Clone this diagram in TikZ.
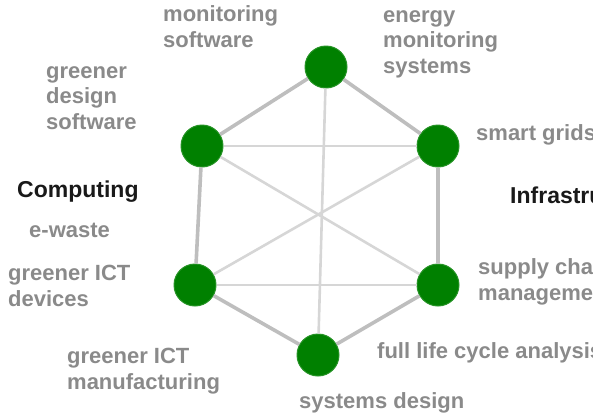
\documentclass[tikz,border=0pt]{standalone}
\usepackage{fontspec}
\setmainfont{Liberation Sans}
\usepackage{tikz}
\usetikzlibrary{positioning}
\definecolor{verdeNodo}{RGB}{0,128,0}
\definecolor{grisTexto}{RGB}{138,138,138}
\definecolor{grisBorde}{RGB}{190,190,190}
\definecolor{grisDiag}{RGB}{214,214,214}

\begin{document}
\begin{tikzpicture}[
                x=1pt, y=-1pt,
                punto/.style={circle, fill=verdeNodo, draw=verdeNodo!85!white, line width=1pt, minimum size=42pt, inner sep=0pt},
                etiq/.style={anchor=base west, align=left, inner sep=0pt, text=grisTexto, font=\fontsize{22}{25.5}\selectfont\bfseries},
                area/.style={anchor=base west, inner sep=0pt, text=black!90, font=\fontsize{23}{26}\selectfont\bfseries},
                lado/.style={line width=3.6pt, grisBorde},
                cruce/.style={line width=2.6pt, grisDiag}
            ]
            \useasboundingbox (0,0) rectangle (593,418);
            \clip (0,0) rectangle (593,418);

            % hexagon points
            \node[punto] (T)  at (326,67)  {};
            \node[punto] (UL) at (202,146) {};
            \node[punto] (UR) at (438,146) {};
            \node[punto] (LL) at (195,285) {};
            \node[punto] (LR) at (438,285) {};
            \node[punto] (B)  at (318,355) {};

            % inner links
            \draw[cruce] (UL) -- (UR);
            \draw[cruce] (LL) -- (LR);
            \draw[cruce] (T) -- (B);
            \draw[cruce] (UL) -- (LR);
            \draw[cruce] (LL) -- (UR);

            % outer ring
            \draw[lado] (T) -- (UR) -- (LR) -- (B) -- (LL) -- (UL) -- (T);

            % labels (base = last line)
            \node[etiq] (msw) at (163,47)  {monitoring\\software};
            \node[etiq] (ems) at (383,73)  {energy\\monitoring\\systems};
            \node[etiq] (gds) at (46,129)  {greener\\design\\software};
            \node[etiq] (sgr) at (476,140) {smart grids};
            \node[etiq] (ewa) at (29,237)  {e-waste};
            \node[etiq] (gid) at (8,306)   {greener ICT\\devices};
            \node[etiq] (scm) at (478,300) {supply chain\\management};
            \node[etiq] (gim) at (67,389)  {greener ICT\\manufacturing};
            \node[etiq] (flc) at (377,358) {full life cycle analysis};
            \node[etiq] (syd) at (299,408) {systems design};

            % areas
            \node[area] (comp) at (17,197)  {Computing};
            \node[area] (infr) at (510,203) {Infrastructure};
        \end{tikzpicture}
\end{document}
